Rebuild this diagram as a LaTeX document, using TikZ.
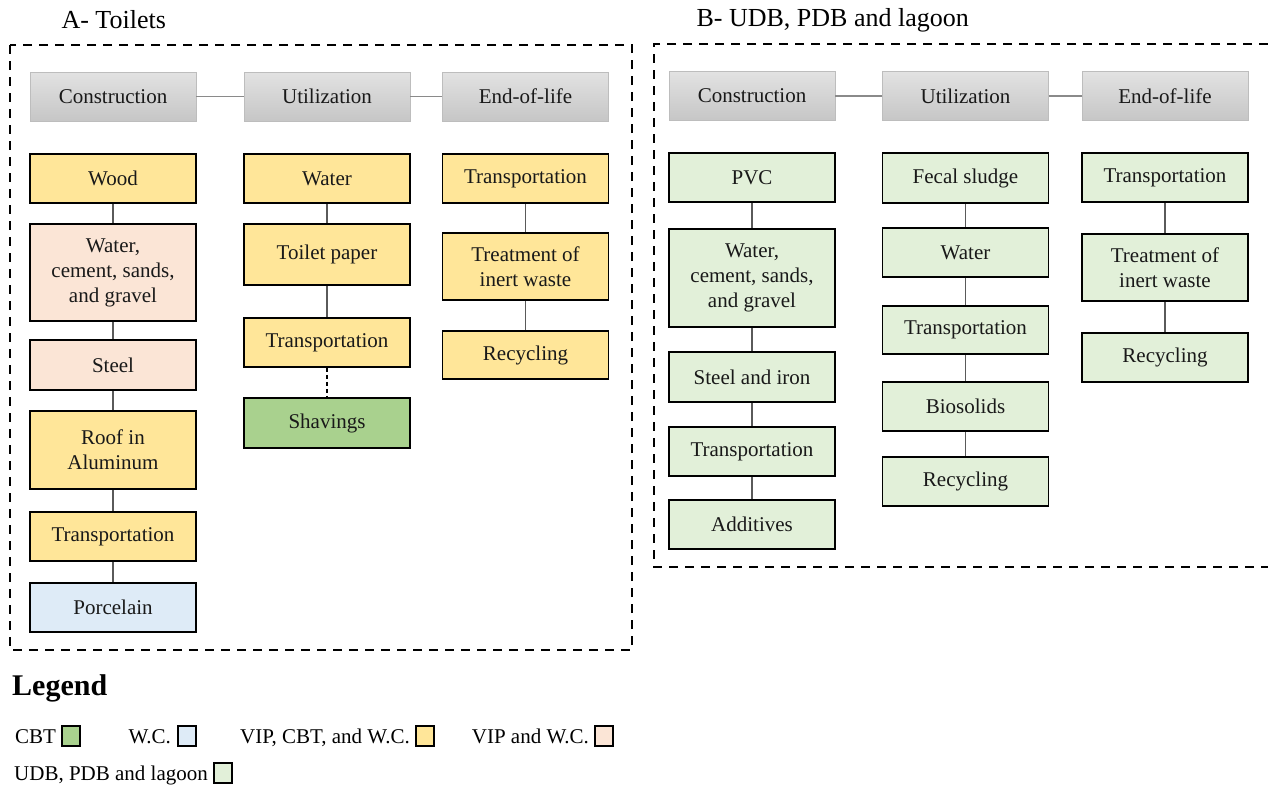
\documentclass[tikz,border=0pt]{standalone}
\usepackage{fontspec}
\setmainfont{Liberation Serif}
\definecolor{cy}{HTML}{FFE699}
\definecolor{cp}{HTML}{FBE5D6}
\definecolor{cb}{HTML}{DEEBF7}
\definecolor{cg}{HTML}{A9D18E}
\definecolor{cl}{HTML}{E2F0D9}
\definecolor{hdtop}{HTML}{E2E2E2}
\definecolor{hdbot}{HTML}{C6C6C6}
\definecolor{hdline}{HTML}{BDBDBD}
\definecolor{conn}{HTML}{5A5A5A}
\definecolor{hconn}{HTML}{8A8A8A}
\tikzset{
  box/.style={draw=black, line width=1.8pt, minimum width=166, align=center,
    font=\fontsize{21}{25}\selectfont, inner sep=2pt, text=black!90},
  hdr/.style={draw=hdline, line width=0.8pt, top color=hdtop, bottom color=hdbot,
    minimum width=166, minimum height=49, font=\fontsize{21}{25}\selectfont, text=black!90},
  link/.style={draw=conn, line width=1.2pt},
  hlink/.style={draw=hconn, line width=1.8pt},
  dlink/.style={draw=black, line width=1.2pt, dash pattern=on 4pt off 3pt},
  panel/.style={draw=black, line width=1.8pt, dash pattern=on 9pt off 7pt},
  ttl/.style={font=\fontsize{26}{30}\selectfont, anchor=west},
  legbox/.style={draw=black, line width=1.8pt, minimum width=18, minimum height=20, inner sep=0pt},
  legtxt/.style={font=\fontsize{21}{24}\selectfont, anchor=base east, inner sep=0pt},
}
\begin{document}
\begin{tikzpicture}[x=1pt,y=-1pt]
\useasboundingbox (0,0) rectangle (1268,788);

% titles
\node[ttl] (ta) at (58,20) {A- Toilets};
\node[ttl] (tb) at (693,20) {B- UDB, PDB and lagoon};

% panels
\draw[panel] (10,45) rectangle (632,650);
\draw[panel] (1268,44) -- (654,44) -- (654,567) -- (1268,567);

% ---------- Panel A ----------
\node[hdr] (ah1) at (113,96.5) {Construction};
\node[hdr] (ah2) at (327,96.5) {Utilization};
\node[hdr] (ah3) at (525.5,96.5) {End-of-life};
\draw[hlink] (ah1) -- (ah2);
\draw[hlink] (ah2) -- (ah3);

\node[box, fill=cy, minimum height=49] (a11) at (113,178.5) {Wood};
\node[box, fill=cp, minimum height=97] (a12) at (113,272.5) {Water,\\cement, sands,\\and gravel};
\node[box, fill=cp, minimum height=50] (a13) at (113,365) {Steel};
\node[box, fill=cy, minimum height=78] (a14) at (113,450) {Roof in\\Aluminum};
\node[box, fill=cy, minimum height=49] (a15) at (113,536.5) {Transportation};
\node[box, fill=cb, minimum height=49] (a16) at (113,607.5) {Porcelain};
\draw[link] (a11) -- (a12);
\draw[link] (a12) -- (a13);
\draw[link] (a13) -- (a14);
\draw[link] (a14) -- (a15);
\draw[link] (a15) -- (a16);

\node[box, fill=cy, minimum height=49] (a21) at (327,178.5) {Water};
\node[box, fill=cy, minimum height=61] (a22) at (327,254.5) {Toilet paper};
\node[box, fill=cy, minimum height=49] (a23) at (327,342.5) {Transportation};
\node[box, fill=cg, minimum height=50] (a24) at (327,423) {Shavings};
\draw[link] (a21) -- (a22);
\draw[link] (a22) -- (a23);
\draw[dlink] (a23) -- (a24);

\node[box, fill=cy, minimum height=49] (a31) at (525.5,178.5) {Transportation};
\node[box, fill=cy, minimum height=67] (a32) at (525.5,266.5) {Treatment of\\inert waste};
\node[box, fill=cy, minimum height=48] (a33) at (525.5,355) {Recycling};
\draw[link] (a31) -- (a32);
\draw[link] (a32) -- (a33);

% ---------- Panel B ----------
\node[hdr] (bh1) at (752,96) {Construction};
\node[hdr] (bh2) at (965.5,96) {Utilization};
\node[hdr] (bh3) at (1165,96) {End-of-life};
\draw[hlink] (bh1) -- (bh2);
\draw[hlink] (bh2) -- (bh3);

\node[box, fill=cl, minimum height=49] (b11) at (752,177.5) {PVC};
\node[box, fill=cl, minimum height=98] (b12) at (752,278) {Water,\\cement, sands,\\and gravel};
\node[box, fill=cl, minimum height=50] (b13) at (752,377) {Steel and iron};
\node[box, fill=cl, minimum height=49] (b14) at (752,451.5) {Transportation};
\node[box, fill=cl, minimum height=49] (b15) at (752,524.5) {Additives};
\draw[link] (b11) -- (b12);
\draw[link] (b12) -- (b13);
\draw[link] (b13) -- (b14);
\draw[link] (b14) -- (b15);

\node[box, fill=cl, minimum height=50] (b21) at (965.5,178) {Fecal sludge};
\node[box, fill=cl, minimum height=49] (b22) at (965.5,252.5) {Water};
\node[box, fill=cl, minimum height=48] (b23) at (965.5,330) {Transportation};
\node[box, fill=cl, minimum height=49] (b24) at (965.5,406.5) {Biosolids};
\node[box, fill=cl, minimum height=49] (b25) at (965.5,481.5) {Recycling};
\draw[link] (b21) -- (b22);
\draw[link] (b22) -- (b23);
\draw[link] (b23) -- (b24);
\draw[link] (b24) -- (b25);

\node[box, fill=cl, minimum height=49] (b31) at (1165,177.5) {Transportation};
\node[box, fill=cl, minimum height=67] (b32) at (1165,267.5) {Treatment of\\inert waste};
\node[box, fill=cl, minimum height=49] (b33) at (1165,357.5) {Recycling};
\draw[link] (b31) -- (b32);
\draw[link] (b32) -- (b33);

% ---------- Legend ----------
\node[font=\bfseries\fontsize{30}{34}\selectfont, anchor=west, inner sep=0pt] (leg) at (12,688) {Legend};

\node[legbox, fill=cg] (l1) at (71,736) {};
\node[legtxt] (t1) at ([xshift=-5pt,yshift=-7pt]l1.west) {CBT};
\node[legbox, fill=cb] (l2) at (187,736) {};
\node[legtxt] (t2) at ([xshift=-6pt,yshift=-7pt]l2.west) {W.C.};
\node[legbox, fill=cy] (l3) at (425,736) {};
\node[legtxt] (t3) at ([xshift=-5pt,yshift=-7pt]l3.west) {VIP, CBT, and W.C.};
\node[legbox, fill=cp] (l4) at (604,736) {};
\node[legtxt] (t4) at ([xshift=-5pt,yshift=-7pt]l4.west) {VIP and W.C.};
\node[legbox, fill=cl] (l5) at (223,773) {};
\node[legtxt] (t5) at ([xshift=-5pt,yshift=-7pt]l5.west) {UDB, PDB and lagoon};
\end{tikzpicture}
\end{document}
